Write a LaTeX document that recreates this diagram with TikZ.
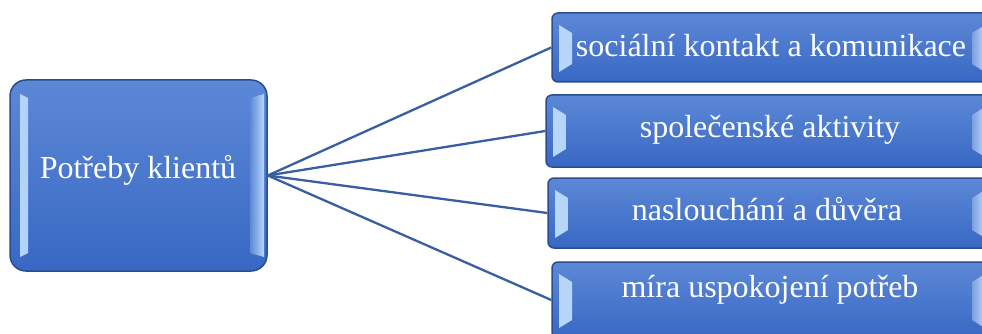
\documentclass[tikz,border=0pt]{standalone}
\usepackage{fontspec}
\setmainfont{Liberation Serif}
\definecolor{boxtop}{HTML}{5C88D6}
\definecolor{boxbot}{HTML}{3868C4}
\definecolor{boxedge}{HTML}{2A4D8F}
\definecolor{bevlight}{HTML}{B8D8FA}
\definecolor{linkcol}{HTML}{3A5EA2}
\tikzset{
  itembox/.style={draw=boxedge, line width=1.5pt, rounded corners=6pt,
    top color=boxtop, bottom color=boxbot, inner sep=0pt,
    path picture={
      \shade[sharp corners, left color=bevlight, right color=boxtop!80!white]
        ([shift={(7pt,-12pt)}]path picture bounding box.north west) --
        ([shift={(20pt,-20pt)}]path picture bounding box.north west) --
        ([shift={(20pt,18pt)}]path picture bounding box.south west) --
        ([shift={(7pt,10pt)}]path picture bounding box.south west) -- cycle;
      \shade[sharp corners, right color=bevlight, left color=boxtop!80!white]
        ([shift={(-7pt,-12pt)}]path picture bounding box.north east) --
        ([shift={(-20pt,-20pt)}]path picture bounding box.north east) --
        ([shift={(-20pt,18pt)}]path picture bounding box.south east) --
        ([shift={(-7pt,10pt)}]path picture bounding box.south east) -- cycle;
    }},
  hubbox/.style={draw=boxedge, line width=1.5pt, rounded corners=16pt,
    top color=boxtop, bottom color=boxbot, inner sep=0pt,
    path picture={
      \shade[sharp corners, left color=bevlight, right color=boxtop]
        ([shift={(10pt,-14pt)}]path picture bounding box.north west) --
        ([shift={(18pt,-18pt)}]path picture bounding box.north west) --
        ([shift={(18pt,18pt)}]path picture bounding box.south west) --
        ([shift={(10pt,14pt)}]path picture bounding box.south west) -- cycle;
      \shade[sharp corners, right color=bevlight, left color=boxtop]
        ([shift={(-3pt,-14pt)}]path picture bounding box.north east) --
        ([shift={(-17pt,-18pt)}]path picture bounding box.north east) --
        ([shift={(-17pt,18pt)}]path picture bounding box.south east) --
        ([shift={(-3pt,14pt)}]path picture bounding box.south east) -- cycle;
    }},
  lbl/.style={text=white, font=\fontsize{32}{36}\selectfont, inner sep=0pt, anchor=base},
  link/.style={draw=linkcol, line width=2.3pt}
}
\begin{document}
\begin{tikzpicture}[x=1pt,y=-1pt]
\useasboundingbox (0,0) rectangle (982,334);
\clip (0,0) rectangle (982,334);
% connectors (behind boxes)
\coordinate (hubc) at (138.5,175.5);
% hub
\node[hubbox, minimum width=257pt, minimum height=191pt] (hub) at (hubc) {};
% items
\node[itembox, minimum width=440pt, minimum height=69pt] (b1) at (772,47.5) {};
\node[itembox, minimum width=446pt, minimum height=72pt] (b2) at (769,131) {};
\node[itembox, minimum width=444pt, minimum height=70pt] (b3) at (770,213) {};
\node[itembox, minimum width=440pt, minimum height=76pt] (b4) at (772,300) {};
\draw[link] (hub.east) -- (b1.west);
\draw[link] (hub.east) -- (b2.west);
\draw[link] (hub.east) -- (b3.west);
\draw[link] (hub.east) -- (b4.west);
\node[lbl] (hubt) at (138,178) {Potřeby klientů};
\node[lbl] (t1) at (771,57) {sociální kontakt a komunikace};
\node[lbl] (t2) at (770,137) {společenské aktivity};
\node[lbl] (t3) at (767,220) {naslouchání a důvěra};
\node[lbl] (t4) at (770,297) {míra uspokojení potřeb};
\end{tikzpicture}
\end{document}
